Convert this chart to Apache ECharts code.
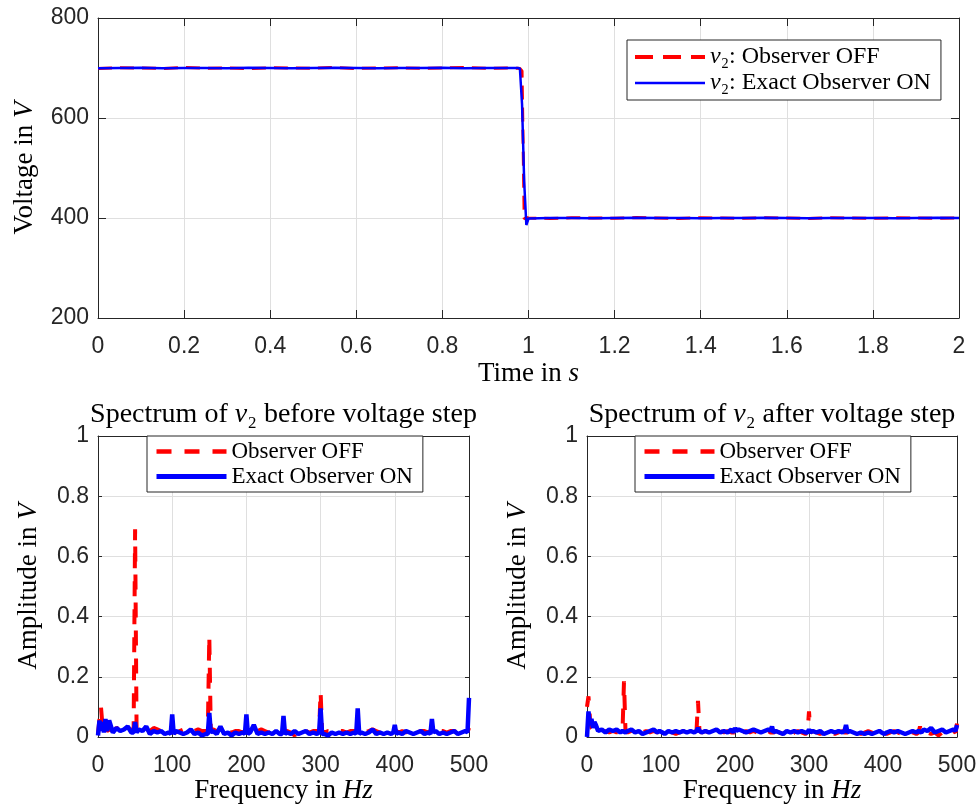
<!DOCTYPE html>
<html>
<head>
<meta charset="utf-8">
<script src="https://cdn.jsdelivr.net/npm/echarts@6/dist/echarts.min.js"></script>
<style>
html,body{margin:0;padding:0;background:#fff;}
#chart{width:977px;height:808px;}
</style>
</head>
<body>
<div id="chart"></div>
<script>
// ---- Time-domain data (top plot) ----
const timeS = [0,0.05,0.1,0.15,0.2,0.25,0.3,0.35,0.4,0.45,0.5,0.55,0.6,0.65,0.7,0.75,0.8,0.85,0.9,0.95,
  0.975,0.98,0.985,0.99,0.995,
  1,1.05,1.1,1.15,1.2,1.25,1.3,1.35,1.4,1.45,1.5,1.55,1.6,1.65,1.7,1.75,1.8,1.85,1.9,1.95,2];
const v2ObserverOff = [699,700.5,700,699,701,699.5,700,699,700.5,700,699.5,701,699,700,700.5,699.5,700,701,699.5,700,
  699.5,699,694,398,401,
  400,399,400.5,400,399.5,401,400,399,400.5,400,399.5,400.5,400,399,400.5,400,399.5,400.5,400,399.5,400];
const v2ObserverOn = [699.5,700,700.5,699.5,700,700,699.5,700.5,700,699.5,700,700.5,700,699.5,700,700,700.5,699.5,700,700,
  700,699,628,472,386,
  399,400,400,399.5,400,400.5,400,400,399.5,400,400,400.5,400,399.5,400,400,400,399.5,400,400.5,400];

// ---- Spectrum data (bottom plots) ----
const freqHz = [0,2,4,6,8,10,12,15,20,25,30,35,40,45,
  48,50,52,55,60,65,70,75,80,85,90,95,
  98,100,102,105,110,115,120,125,130,135,140,145,
  148,150,152,155,160,165,170,175,180,185,190,195,
  198,200,202,205,210,215,220,225,230,235,240,245,
  248,250,252,255,260,265,270,275,280,285,290,295,
  298,300,302,305,310,315,320,325,330,335,340,345,
  348,350,352,355,360,365,370,375,380,385,390,395,
  398,400,402,405,410,415,420,425,430,435,440,445,
  448,450,452,455,460,465,470,475,480,485,490,495,
  498,500];
const offBefore = [0.01,0.06,0.10,0.04,0.02,0.03,0.02,0.025,0.02,0.03,0.025,0.03,0.02,0.025,
  0.02,0.69,0.02,0.025,0.02,0.015,0.02,0.03,0.025,0.02,0.015,0.02,
  0.02,0.03,0.02,0.015,0.02,0.025,0.02,0.015,0.02,0.025,0.02,0.02,
  0.02,0.335,0.02,0.025,0.02,0.015,0.02,0.02,0.015,0.02,0.02,0.015,
  0.02,0.025,0.02,0.02,0.015,0.02,0.025,0.02,0.015,0.02,0.02,0.015,
  0.02,0.025,0.02,0.02,0.015,0.005,0.02,0.015,0.02,0.015,0.02,0.02,
  0.02,0.15,0.02,0.015,0.02,0.02,0.015,0.02,0.02,0.015,0.02,0.02,
  0.02,0.02,0.015,0.02,0.015,0.02,0.025,0.02,0.015,0.02,0.02,0.015,
  0.02,0.025,0.02,0.015,0.02,0.015,0.02,0.02,0.015,0.02,0.02,0.015,
  0.02,0.03,0.02,0.015,0.02,0.02,0.015,0.02,0.02,0.015,0.02,0.015,
  0.015,0.03];
const onBefore = [0.005,0.055,0.02,0.05,0.015,0.06,0.02,0.055,0.015,0.03,0.02,0.025,0.035,0.015,
  0.015,0.05,0.015,0.025,0.02,0.035,0.01,0.02,0.015,0.02,0.01,0.015,
  0.01,0.075,0.01,0.02,0.015,0.01,0.015,0.025,0.01,0.015,0.005,0.01,
  0.01,0.08,0.015,0.02,0.01,0.035,0.01,0.015,0.005,0.015,0.01,0.015,
  0.01,0.075,0.01,0.015,0.04,0.01,0.015,0.01,0.015,0.01,0.02,0.01,
  0.01,0.07,0.01,0.015,0.01,0.02,0.01,0.015,0.02,0.01,0.015,0.01,
  0.015,0.095,0.01,0.01,0.005,0.015,0.01,0.015,0.01,0.015,0.01,0.015,
  0.01,0.095,0.01,0.015,0.01,0.015,0.025,0.01,0.015,0.01,0.015,0.01,
  0.015,0.04,0.01,0.015,0.01,0.02,0.015,0.01,0.015,0.02,0.01,0.015,
  0.01,0.06,0.015,0.02,0.01,0.015,0.01,0.015,0.02,0.01,0.015,0.02,
  0.015,0.13];
const offAfter = [0.10,0.135,0.06,0.03,0.025,0.02,0.025,0.02,0.015,0.02,0.015,0.02,0.015,0.02,
  0.02,0.185,0.02,0.015,0.02,0.015,0.01,0.015,0.02,0.015,0.02,0.015,
  0.015,0.02,0.015,0.015,0.02,0.015,0.01,0.015,0.02,0.015,0.02,0.015,
  0.02,0.12,0.02,0.015,0.02,0.015,0.02,0.015,0.02,0.015,0.02,0.015,
  0.015,0.02,0.015,0.0,0.015,0.02,0.015,0.02,0.015,0.02,0.015,0.02,
  0.015,0.02,0.015,0.02,0.015,0.01,0.015,0.005,0.015,0.02,0.015,0.01,
  0.015,0.085,0.015,0.02,0.015,0.01,0.015,0.02,0.015,0.01,0.015,0.02,
  0.015,0.02,0.015,0.015,0.01,0.015,0.01,0.015,0.02,0.015,0.01,0.015,
  0.015,0.02,0.015,0.01,0.015,0.02,0.015,0.01,0.015,0.02,0.015,0.01,
  0.015,0.035,0.015,0.02,0.015,0.01,0.015,0.005,0.015,0.01,0.015,0.02,
  0.015,0.045];
const onAfter = [0.0,0.085,0.04,0.06,0.03,0.05,0.04,0.02,0.025,0.015,0.025,0.02,0.025,0.015,
  0.02,0.025,0.015,0.02,0.025,0.015,0.02,0.01,0.015,0.02,0.025,0.015,
  0.02,0.025,0.015,0.01,0.02,0.015,0.02,0.015,0.02,0.015,0.02,0.015,
  0.02,0.03,0.02,0.015,0.02,0.015,0.02,0.025,0.015,0.02,0.015,0.025,
  0.015,0.03,0.02,0.025,0.02,0.015,0.02,0.025,0.02,0.015,0.02,0.025,
  0.02,0.035,0.015,0.02,0.015,0.01,0.02,0.015,0.02,0.015,0.02,0.015,
  0.015,0.025,0.015,0.02,0.015,0.02,0.01,0.015,0.02,0.015,0.02,0.015,
  0.02,0.04,0.015,0.02,0.015,0.01,0.015,0.01,0.015,0.01,0.015,0.02,
  0.015,0.02,0.01,0.015,0.02,0.015,0.02,0.015,0.01,0.015,0.02,0.015,
  0.02,0.025,0.015,0.025,0.02,0.03,0.015,0.02,0.025,0.015,0.02,0.025,
  0.02,0.04];

const topLegendNames = ['v\u2082: Observer OFF', 'v\u2082: Exact Observer ON'];
const specLegendNames = ['Observer OFF', 'Exact Observer ON'];

// ---- styling helpers ----
const SERIF = '"Liberation Serif", "DejaVu Serif", serif';
const SANS = '"Liberation Sans", Arial, sans-serif';
const AX = '#262626';
const GRIDC = '#dfdfdf';
const RED = '#ff0000', BLUE = '#0000ff';

function zip(x, y) { return x.map((v, i) => [v, y[i]]); }

const nameStyle = {
  fontFamily: SERIF, fontSize: 27, color: '#000',
  rich: { it: { fontFamily: SERIF, fontSize: 27, fontStyle: 'italic', color: '#000' } }
};

function xAxes(grid, min, max, interval, name, nameGap, tickLen) {
  return [{
    gridIndex: grid, type: 'value', min, max, interval, position: 'bottom',
    axisLine: { show: true, onZero: false, lineStyle: { color: AX, width: 1 } },
    axisTick: { show: true, inside: true, length: tickLen, lineStyle: { color: AX, width: 1 } },
    axisLabel: { fontFamily: SANS, fontSize: 23, color: AX, margin: 17 },
    splitLine: { show: true, lineStyle: { color: GRIDC, width: 1 } },
    name, nameLocation: 'middle', nameGap, nameTextStyle: nameStyle
  }, {
    gridIndex: grid, type: 'value', min, max, interval, position: 'top',
    axisLine: { show: true, onZero: false, lineStyle: { color: AX, width: 1 } },
    axisTick: { show: true, inside: true, length: tickLen, lineStyle: { color: AX, width: 1 } },
    axisLabel: { show: false }, splitLine: { show: false }
  }];
}
function yAxes(grid, min, max, interval, name, nameGap, tickLen) {
  return [{
    gridIndex: grid, type: 'value', min, max, interval, position: 'left',
    axisLine: { show: true, onZero: false, lineStyle: { color: AX, width: 1 } },
    axisTick: { show: true, inside: true, length: tickLen, lineStyle: { color: AX, width: 1 } },
    axisLabel: { fontFamily: SANS, fontSize: 23, color: AX, margin: 9 },
    splitLine: { show: true, lineStyle: { color: GRIDC, width: 1 } },
    name, nameLocation: 'middle', nameGap, nameTextStyle: nameStyle
  }, {
    gridIndex: grid, type: 'value', min, max, interval, position: 'right',
    axisLine: { show: true, onZero: false, lineStyle: { color: AX, width: 1 } },
    axisTick: { show: true, inside: true, length: tickLen, lineStyle: { color: AX, width: 1 } },
    axisLabel: { show: false }, splitLine: { show: false }
  }];
}

const xAxis = [].concat(
  xAxes(0, 0, 2, 0.2, 'Time in {it|s}', 42, 8),
  xAxes(1, 0, 500, 100, 'Frequency in {it|Hz}', 38, 4),
  xAxes(2, 0, 500, 100, 'Frequency in {it|Hz}', 38, 4)
);
const yAxis = [].concat(
  yAxes(0, 200, 800, 200, 'Voltage in {it|V}', 60, 8),
  yAxes(1, 0, 1, 0.2, 'Amplitude in {it|V}', 56, 4),
  yAxes(2, 0, 1, 0.2, 'Amplitude in {it|V}', 56, 4)
);

function legendBox(left, top, names, fontSize, dashes, widths, pad) {
  return {
    orient: 'vertical', left, top, padding: pad, itemGap: 2,
    itemWidth: 70, itemHeight: 14,
    borderColor: AX, borderWidth: 1, backgroundColor: '#fff',
    selectedMode: false,
    itemStyle: { opacity: 0 },
    data: [
      { name: names[0], itemStyle: { opacity: 0 }, lineStyle: { type: dashes, width: widths[0], color: RED } },
      { name: names[1], itemStyle: { opacity: 0 }, lineStyle: { type: 'solid', width: widths[1], color: BLUE } }
    ],
    formatter: function (n) { return n.indexOf('v\u2082') === 0 ? '{it|v}' + n.slice(1) : n; },
    textStyle: {
      fontFamily: SERIF, fontSize, color: '#000',
      rich: { it: { fontFamily: SERIF, fontSize, fontStyle: 'italic', color: '#000' } }
    }
  };
}

const titleRich = { it: { fontFamily: SERIF, fontSize: 28, fontStyle: 'italic', color: '#000' } };

const option = {
  animation: false,
  backgroundColor: '#fff',
  title: [
    { text: 'Spectrum of {it|v}\u2082 before voltage step', left: 283.5, top: 401, textAlign: 'center',
      padding: 0, textStyle: { fontFamily: SERIF, fontSize: 28, fontWeight: 'normal', color: '#000', rich: titleRich } },
    { text: 'Spectrum of {it|v}\u2082 after voltage step', left: 772, top: 401, textAlign: 'center',
      padding: 0, textStyle: { fontFamily: SERIF, fontSize: 28, fontWeight: 'normal', color: '#000', rich: titleRich } }
  ],
  grid: [
    { left: 98, top: 18, width: 861, height: 300, show: false, outerBoundsMode: 'none' },
    { left: 98, top: 436, width: 371, height: 301, show: false, outerBoundsMode: 'none' },
    { left: 587, top: 436, width: 370, height: 301, show: false, outerBoundsMode: 'none' }
  ],
  legend: [
    legendBox(627, 40, topLegendNames, 24, [18, 10], [4, 2.5], [5, 10, 5, 6]),
    legendBox(147, 436, specLegendNames, 23, [15, 13], [4.5, 5], [4, 10, 4, 7]),
    legendBox(635, 436, specLegendNames, 23, [15, 13], [4.5, 5], [4, 10, 4, 7])
  ],
  xAxis, yAxis,
  series: [
    { type: 'line', name: topLegendNames[0], xAxisIndex: 0, yAxisIndex: 0, data: zip(timeS, v2ObserverOff),
      symbol: 'none', lineStyle: { color: RED, width: 3, type: [14, 8] }, itemStyle: { color: RED } },
    { type: 'line', name: topLegendNames[1], xAxisIndex: 0, yAxisIndex: 0, data: zip(timeS, v2ObserverOn),
      symbol: 'none', lineStyle: { color: BLUE, width: 2.5 }, itemStyle: { color: BLUE } },
    { type: 'line', name: specLegendNames[0], xAxisIndex: 2, yAxisIndex: 2, data: zip(freqHz, offBefore),
      symbol: 'none', lineStyle: { color: RED, width: 4, type: [15, 13] }, itemStyle: { color: RED } },
    { type: 'line', name: specLegendNames[1], xAxisIndex: 2, yAxisIndex: 2, data: zip(freqHz, onBefore),
      symbol: 'none', lineStyle: { color: BLUE, width: 4.5 }, itemStyle: { color: BLUE } },
    { type: 'line', name: specLegendNames[0], xAxisIndex: 4, yAxisIndex: 4, data: zip(freqHz, offAfter),
      symbol: 'none', lineStyle: { color: RED, width: 4, type: [15, 13] }, itemStyle: { color: RED } },
    { type: 'line', name: specLegendNames[1], xAxisIndex: 4, yAxisIndex: 4, data: zip(freqHz, onAfter),
      symbol: 'none', lineStyle: { color: BLUE, width: 4.5 }, itemStyle: { color: BLUE } }
  ]
};

const chart = echarts.init(document.getElementById('chart'), null, { renderer: 'canvas' });
chart.setOption(option);
</script>
</body>
</html>
